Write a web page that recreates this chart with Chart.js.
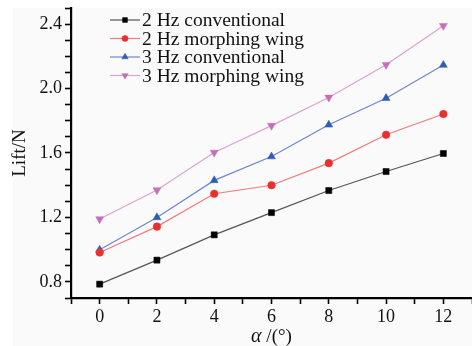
<!DOCTYPE html>
<html>
<head>
<meta charset="utf-8">
<script src="https://cdn.jsdelivr.net/npm/chart.js@4/dist/chart.umd.min.js"></script>
<style>
html,body{margin:0;padding:0;background:#fff;}
#wrap{width:472px;height:346px;position:relative;}
</style>
</head>
<body>
<div id="wrap"><canvas id="c" width="472" height="346"></canvas></div>
<script>
const alphaDeg = [0, 2, 4, 6, 8, 10, 12];
const seriesNames = ['2 Hz conventional', '2 Hz morphing wing', '3 Hz conventional', '3 Hz morphing wing'];
const lift2HzConv = [0.786, 0.935, 1.092, 1.230, 1.367, 1.485, 1.597];
const lift2HzMorph = [0.982, 1.143, 1.347, 1.400, 1.537, 1.713, 1.842];
const lift3HzConv = [0.999, 1.200, 1.430, 1.578, 1.775, 1.940, 2.146];
const lift3HzMorph = [1.190, 1.370, 1.603, 1.770, 1.945, 2.148, 2.390];
const yTickLabels = ['0.8', '1.2', '1.6', '2.0', '2.4'];
const xTickLabels = ['0', '2', '4', '6', '8', '10', '12'];
const xTitleParts = ['α', ' /(°)'];
const yTitle = 'Lift/N';

const FONT = "'Liberation Serif', 'Times New Roman', serif";

function pts(vals){ return alphaDeg.map((a,i)=>({x:a, y:vals[i]})); }

const styles = [
  {line:'#555555', fill:'#000000', pointStyle:'rect', radius:4.3, rotation:0},
  {line:'#f37b7b', fill:'#ea2f2f', pointStyle:'circle', radius:3.8, rotation:0},
  {line:'#6f86cc', fill:'#2f5cb3', pointStyle:'triangle', radius:4.6, rotation:0},
  {line:'#dba3d6', fill:'#c46fb8', pointStyle:'triangle', radius:4.6, rotation:180}
];
const allVals = [lift2HzConv, lift2HzMorph, lift3HzConv, lift3HzMorph];

const datasets = allVals.map((v,i)=>({
  label: seriesNames[i],
  data: pts(v),
  borderColor: styles[i].line,
  borderWidth: 1.2,
  backgroundColor: styles[i].fill,
  pointBackgroundColor: styles[i].fill,
  pointBorderColor: styles[i].fill,
  pointBorderWidth: 0.5,
  pointStyle: styles[i].pointStyle,
  pointRadius: styles[i].radius,
  pointRotation: styles[i].rotation,
  showLine: true,
  tension: 0
}));

const bgPlugin = {
  id:'bg',
  beforeDraw(chart){
    const ctx = chart.ctx;
    ctx.save();
    ctx.fillStyle = '#ffffff';
    ctx.fillRect(0,0,chart.width,chart.height);
    ctx.fillStyle = '#fafafa';
    ctx.fillRect(13,8,chart.width-13,chart.height-8);
    ctx.restore();
  }
};

const legendPlugin = {
  id:'customLegend',
  afterDatasetsDraw(chart){
    const ctx = chart.ctx;
    ctx.save();
    chart.data.datasets.forEach((ds,i)=>{
      const y = 20 + i*18.5;
      ctx.strokeStyle = ds.borderColor;
      ctx.lineWidth = 1.2;
      ctx.beginPath(); ctx.moveTo(110,y); ctx.lineTo(140,y); ctx.stroke();
      ctx.fillStyle = ds.pointBackgroundColor;
      ctx.strokeStyle = ds.pointBorderColor;
      ctx.lineWidth = 0.5;
      Chart.helpers.drawPoint(ctx, {pointStyle: ds.pointStyle, radius: ds.pointRadius*0.8, rotation: ds.pointRotation, borderWidth:0.5}, 125, y);
      ctx.fillStyle = '#111';
      ctx.font = "19.5px " + FONT;
      ctx.textBaseline = 'middle';
      ctx.textAlign = 'left';
      ctx.fillText(ds.label, 142, y+1);
    });
    // x-axis title with italic alpha
    const xs = chart.scales.x;
    const cx = (xs.left + xs.right)/2;
    const cy = 337;
    ctx.textBaseline = 'middle';
    ctx.textAlign = 'left';
    ctx.font = "italic 20px " + FONT;
    const w1 = ctx.measureText(xTitleParts[0]).width;
    ctx.font = "19px " + FONT;
    const w2 = ctx.measureText(xTitleParts[1]).width;
    let x0 = cx - (w1 + w2)/2;
    ctx.font = "italic 20px " + FONT;
    ctx.fillText(xTitleParts[0], x0, cy);
    ctx.font = "19px " + FONT;
    ctx.fillText(xTitleParts[1], x0 + w1, cy);
    ctx.restore();
  }
};

new Chart(document.getElementById('c'), {
  type:'scatter',
  data:{datasets},
  plugins:[bgPlugin, legendPlugin],
  options:{
    responsive:false,
    animation:false,
    devicePixelRatio:1,
    layout:{padding:{top:8,right:0,left:0,bottom:0}, autoPadding:false},
    plugins:{legend:{display:false}, tooltip:{enabled:false}},
    scales:{
      x:{
        type:'linear', min:-1, max:13,
        afterBuildTicks(scale){ scale.ticks = []; for(let v=-1; v<=13; v++) scale.ticks.push({value:v}); },
        ticks:{
          autoSkip:false, maxRotation:0,
          color:'#111', font:{family:FONT, size:18}, padding:2,
          callback(v){ const s = String(Math.round(v)); return xTickLabels.includes(s) ? s : ''; }
        },
        grid:{drawOnChartArea:false, drawTicks:true, tickLength:6, tickColor:'#000', tickWidth:1.6},
        border:{display:true, color:'#000', width:2.2},
        title:{display:false},
        afterFit(scale){ scale.height = 48; scale.paddingLeft = 0; scale.paddingRight = 0; }
      },
      y:{
        type:'linear', min:0.7, max:2.5,
        afterBuildTicks(scale){ scale.ticks = []; for(let k=7; k<=25; k++) scale.ticks.push({value:k/10}); },
        ticks:{
          autoSkip:false,
          color:'#111', font:{family:FONT, size:18}, padding:3,
          callback(v){ const s = (Math.round(v*10)/10).toFixed(1); return yTickLabels.includes(s) ? s : ''; }
        },
        grid:{drawOnChartArea:false, drawTicks:true, tickLength:6, tickColor:'#000', tickWidth:1.6},
        border:{display:true, color:'#000', width:2.2},
        title:{display:true, text:yTitle, color:'#111', font:{family:FONT, size:19}, padding:{top:9,bottom:4}},
        afterFit(scale){ scale.width = 71; scale.paddingTop = 0; scale.paddingBottom = 0; }
      }
    }
  }
});
</script>
</body>
</html>
